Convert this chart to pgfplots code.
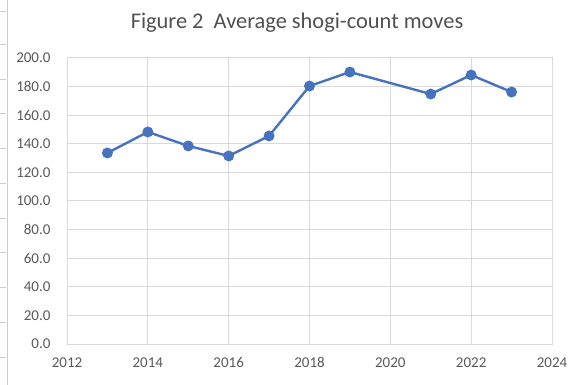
\documentclass[border=0pt]{standalone}
\usepackage{pgfplots}
\pgfplotsset{compat=1.18}
\usepackage{fontspec}
\setmainfont{Carlito}

\definecolor{seriesblue}{RGB}{70,114,190}
\definecolor{gridgray}{RGB}{217,217,217}
\definecolor{labelgray}{RGB}{89,89,89}
\definecolor{titlegray}{RGB}{80,80,80}
\definecolor{cellgray}{RGB}{205,205,205}

\begin{document}
\begin{tikzpicture}
  \useasboundingbox (0bp,0bp) rectangle (573bp,385bp);
  % sheet cell lines on the left
  \draw[cellgray,line width=0.8bp] (7bp,0bp) -- (7bp,385bp);
  \foreach \yy in {374,341,306,272,237,202,167,133,98,63,28}
    \draw[cellgray,line width=0.8bp] (0bp,\yy bp) -- (6bp,\yy bp);

  \node[font=\fontsize{22.4bp}{26bp}\selectfont, text=titlegray] at (297bp,362bp)
    {Figure 2\ \ Average shogi-count moves};

  \begin{axis}[
    at={(67bp,41bp)}, anchor=south west,
    scale only axis, width=485bp, height=286bp,
    xmin=2012, xmax=2024, ymin=0, ymax=200,
    xtick={2012,2014,...,2024}, ytick={0,20,...,200},
    /pgf/number format/assume math mode=true,
    every tick label/.append style={font=\fontsize{15bp}{17bp}\selectfont, text=labelgray},
    xticklabel style={/pgf/number format/1000 sep={}, yshift=-10bp},
    yticklabel style={/pgf/number format/fixed,
                      /pgf/number format/fixed zerofill,
                      /pgf/number format/precision=1, xshift=-13bp},
    major tick length=0pt,
    grid=major,
    grid style={gridgray, line width=1bp},
    axis line style={gridgray, line width=1bp},
    clip=false,
  ]
    \addplot[seriesblue, line width=2.4bp, mark=*, mark size=4.2bp,
             mark options={fill=seriesblue, draw=seriesblue}]
      coordinates {
        (2013,133.6) (2014,148.3) (2015,138.5) (2016,131.5) (2017,145.5)
        (2018,180.4) (2019,190.2) (2021,174.8) (2022,188.1) (2023,176.2)
      };
  \end{axis}
\end{tikzpicture}
\end{document}
